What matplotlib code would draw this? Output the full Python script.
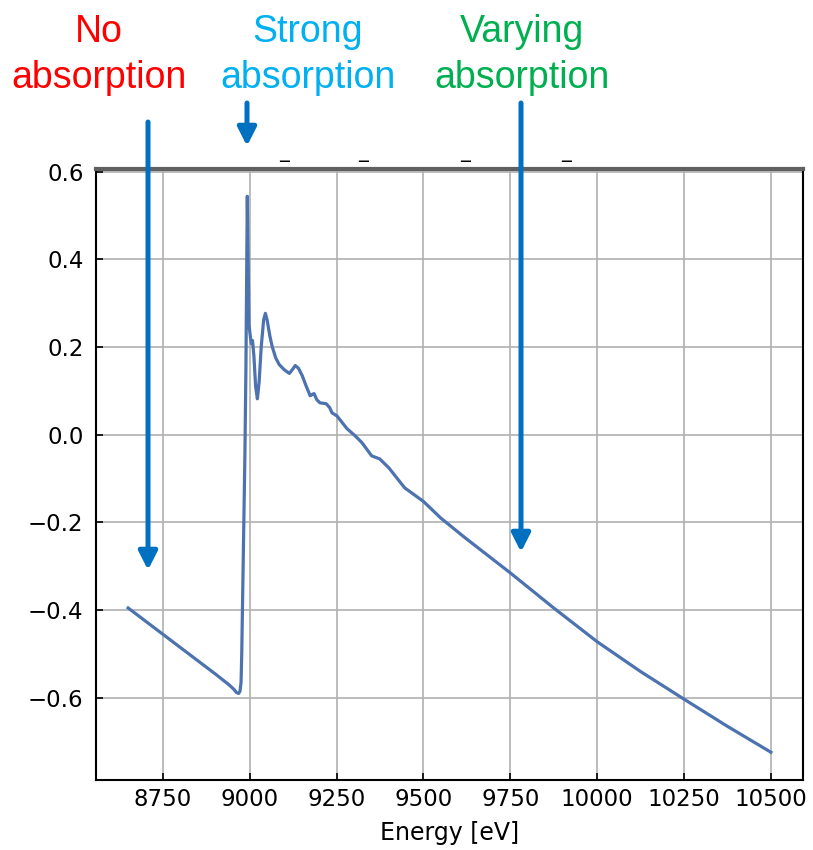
"""XANES spectrum with absorption-region annotations."""
import numpy as np
import matplotlib
matplotlib.use("Agg")
import matplotlib.pyplot as plt

# spectrum
energy = [8650, 8700, 8750, 8800, 8850, 8900, 8940, 8955, 8962, 8968, 8972,
          8975, 8977, 8979, 8981, 8983, 8986, 8989, 8991, 8993, 8995, 8998,
          9002, 9005, 9008, 9012, 9017, 9022, 9027, 9033, 9040, 9045, 9050,
          9058, 9065, 9075, 9085, 9100, 9114, 9124, 9131, 9140, 9151, 9163,
          9174, 9180, 9185, 9193, 9202, 9210, 9220, 9230, 9237, 9251, 9280,
          9303, 9323, 9351, 9374, 9400, 9446, 9500, 9550, 9620, 9750, 9875,
          10000, 10125, 10250, 10375, 10500]
mu = [-0.395, -0.425, -0.455, -0.485, -0.515, -0.545, -0.570, -0.581, -0.588,
      -0.590, -0.585, -0.565, -0.500, -0.400, -0.300, -0.200, -0.050, 0.150,
      0.350, 0.544, 0.420, 0.250, 0.222, 0.208, 0.215, 0.180, 0.110, 0.082,
      0.120, 0.200, 0.262, 0.277, 0.262, 0.225, 0.200, 0.175, 0.160, 0.148,
      0.140, 0.150, 0.158, 0.152, 0.135, 0.110, 0.089, 0.092, 0.094, 0.080,
      0.073, 0.072, 0.071, 0.062, 0.050, 0.043, 0.014, -0.002, -0.018, -0.048,
      -0.055, -0.075, -0.121, -0.152, -0.190, -0.235, -0.315, -0.395, -0.472,
      -0.540, -0.603, -0.665, -0.724]

xticks = [8750, 9000, 9250, 9500, 9750, 10000, 10250, 10500]
yticks = [-0.6, -0.4, -0.2, 0.0, 0.2, 0.4, 0.6]

labels = ["No\nabsorption", "Strong\nabsorption", "Varying\nabsorption"]
label_colors = ["#FF0000", "#00B0F0", "#00B050"]

W, H = 813, 850
fig = plt.figure(figsize=(W / 100, H / 100), dpi=100)
ax = fig.add_axes([96 / W, 1 - 780 / H, 707 / W, 611.5 / H])

ax.plot(energy, mu, color="#4C72B0", lw=2.3)
ax.set_xticks(xticks)
ax.set_yticks(yticks)
ax.grid(True, color="#b0b0b0", lw=1.2)
ax.tick_params(direction="in", labelsize=16.5, length=5, width=1.2)
ax.tick_params(axis="x", pad=6)
ax.tick_params(axis="y", pad=9)
ax.set_xlabel("Energy [eV]", fontsize=17, labelpad=7)
for s in ["left", "bottom", "right"]:
    ax.spines[s].set_linewidth(1.5)
ax.spines["top"].set_linewidth(3)
ax.spines["top"].set_color("#606060")

# leftover dashes above the frame
for px in [284, 363, 465, 566]:
    fig.text(px / W, 1 - 162 / H, "_", ha="center", va="bottom", fontsize=14)

# labels
for txt, col, cx in zip(labels, label_colors, [99, 308, 522]):
    fig.text(cx / W, 1 - 14 / H, txt, color=col, ha="center", va="top",
             fontsize=27, family=["Liberation Sans", "DejaVu Sans"],
             linespacing=1.36)

# arrows (figure pixels, origin bottom-left)
arrow_col = "#0070C0"
for x, y0, y1 in [(148, 122, 570), (247, 103, 146), (521, 103, 552)]:
    fig.add_artist(matplotlib.patches.FancyArrowPatch(
        (x, H - y0), (x, H - y1), transform=None,
        arrowstyle="-|>,head_length=0.55,head_width=0.28", mutation_scale=20,
        lw=3.6, color=arrow_col, shrinkA=0, shrinkB=0))

fig.savefig("out.png", dpi=100)
